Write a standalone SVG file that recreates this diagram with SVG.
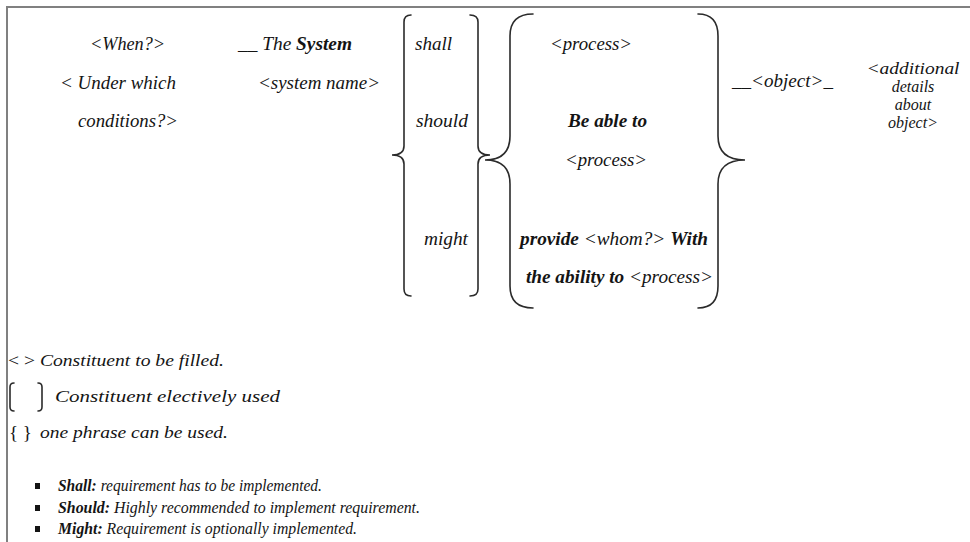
<svg xmlns="http://www.w3.org/2000/svg" width="970" height="542" viewBox="0 0 970 542">
<style>
text{font-family:"Liberation Serif","Times New Roman",serif;font-style:italic;font-size:18px;fill:#141414}
.b{font-weight:bold}
.n{font-style:normal}
.m{text-anchor:middle}
.l{font-size:17px}
.d{font-size:16px}
.s{font-size:16.5px}
.u{font-size:17px}
.br{fill:none;stroke:#2b2b2b;stroke-width:1.6;stroke-linecap:round}
</style>
<rect width="970" height="542" fill="#fff"/>
<g id="frame"><path d="M7,542 L7,7 L970,7" fill="none" stroke="#808080" stroke-width="2"/></g>

<g id="when">
<text x="90" y="50" textLength="75" lengthAdjust="spacingAndGlyphs">&lt;When?&gt;</text>
<text x="60" y="89" textLength="116" lengthAdjust="spacingAndGlyphs">&lt; Under which</text>
<text x="78" y="127" textLength="100" lengthAdjust="spacingAndGlyphs">conditions?&gt;</text>
</g>

<g id="system">
<text x="238" y="50" textLength="114" lengthAdjust="spacingAndGlyphs">__ The <tspan class="b">System</tspan></text>
<text x="258" y="89" textLength="122" lengthAdjust="spacingAndGlyphs">&lt;system name&gt;</text>
</g>

<g id="modal">
<text x="415" y="50" textLength="37" lengthAdjust="spacingAndGlyphs">shall</text>
<text x="416" y="127" textLength="52" lengthAdjust="spacingAndGlyphs">should</text>
<text x="424" y="245" textLength="44" lengthAdjust="spacingAndGlyphs">might</text>
</g>

<g id="process">
<text x="550" y="50" textLength="82" lengthAdjust="spacingAndGlyphs">&lt;process&gt;</text>
<text x="568" y="127" class="b" textLength="79" lengthAdjust="spacingAndGlyphs">Be able to</text>
<text x="565" y="166" textLength="82" lengthAdjust="spacingAndGlyphs">&lt;process&gt;</text>
<text x="520" y="245" textLength="188" lengthAdjust="spacingAndGlyphs"><tspan class="b">provide</tspan> &lt;whom?&gt; <tspan class="b">With</tspan></text>
<text x="526" y="283" textLength="187" lengthAdjust="spacingAndGlyphs"><tspan class="b">the ability to</tspan> &lt;process&gt;</text>
</g>

<g id="object">
<text x="732" y="87" textLength="101" lengthAdjust="spacingAndGlyphs">__&lt;object&gt;_</text>
</g>

<g id="details">
<text x="913" y="74" class="m l" textLength="93" lengthAdjust="spacingAndGlyphs">&lt;additional</text>
<text x="913" y="92" class="m d">details</text>
<text x="913" y="110" class="m d">about</text>
<text x="913" y="128" class="m d">object&gt;</text>
</g>

<g id="connectors">
<path class="br" d="M411,15 Q404,15 404,22 L404,146 Q404,155 392,155 Q404,155 404,164 L404,289 Q404,296 411,296"/>
<path class="br" d="M470,15 Q478,15 478,22 L478,146 Q478,155 490,155 Q478,155 478,164 L478,289 Q478,296 470,296"/>
<path class="br" d="M533,14 Q510,14 510,36 L510,136 Q510,160 485,160 Q510,160 510,184 L510,286 Q510,308 533,308"/>
<path class="br" d="M698,14 Q718,14 718,36 L718,136 Q718,160 745,160 Q718,160 718,184 L718,286 Q718,308 698,308"/>
</g>

<g id="legend">
<text x="8" y="366" class="l" textLength="216" lengthAdjust="spacingAndGlyphs"><tspan class="n">&lt; &gt;</tspan> Constituent to be filled.</text>
<path class="br" d="M14,383 Q10,383 10,387 L10,407 Q10,411 14,411"/>
<path class="br" d="M38,383 Q42,383 42,387 L42,407 Q42,411 38,411"/>
<text x="55" y="402" class="l" textLength="225" lengthAdjust="spacingAndGlyphs">Constituent electively used</text>
<text x="9" y="439" class="n" style="font-size:19px">{ }</text>
<text x="40" y="438" class="s" textLength="188" lengthAdjust="spacingAndGlyphs">one phrase can be used.</text>
</g>

<g id="bullets">
<rect x="35" y="483" width="5" height="6" fill="#141414"/>
<rect x="35" y="505" width="5" height="6" fill="#141414"/>
<rect x="35" y="526" width="5" height="6" fill="#141414"/>
<text x="58" y="491" class="u" textLength="264" lengthAdjust="spacingAndGlyphs"><tspan class="b">Shall:</tspan> requirement has to be implemented.</text>
<text x="58" y="513" class="u" textLength="362" lengthAdjust="spacingAndGlyphs"><tspan class="b">Should:</tspan> Highly recommended to implement requirement.</text>
<text x="58" y="534" class="u" textLength="299" lengthAdjust="spacingAndGlyphs"><tspan class="b">Might:</tspan> Requirement is optionally implemented.</text>
</g>
</svg>
